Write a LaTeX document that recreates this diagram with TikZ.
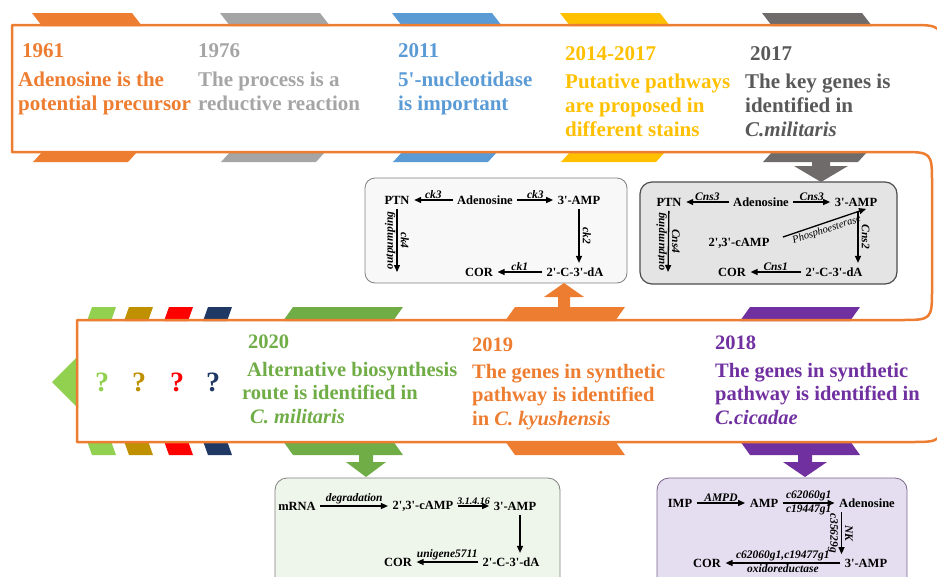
\documentclass[tikz,border=0pt]{standalone}
\usepackage{fontspec}
\setmainfont{Liberation Serif}
\usetikzlibrary{arrows.meta}
\definecolor{cor}{HTML}{ED7D31}
\definecolor{cgray}{HTML}{A5A5A5}
\definecolor{cblue}{HTML}{5B9BD5}
\definecolor{cyel}{HTML}{FFC000}
\definecolor{cdg}{HTML}{6F6B6B}
\definecolor{cdgt}{HTML}{595959}
\definecolor{cgreen}{HTML}{70AD47}
\definecolor{clg}{HTML}{92D050}
\definecolor{cgold}{HTML}{BF9000}
\definecolor{cred}{HTML}{FF0000}
\definecolor{cnavy}{HTML}{1F3864}
\definecolor{cpur}{HTML}{7030A0}
\definecolor{boxa}{HTML}{F8F8F8}
\definecolor{boxb}{HTML}{E4E4E4}
\definecolor{boxc}{HTML}{EEF5EA}
\definecolor{boxd}{HTML}{E4DEF0}
\newcommand{\myq}{\textquotesingle}
\newcommand{\mytoptab}[2]{%
  \fill[#1] (#2,13) -- ++(100,0) -- ++(10,13) -- ++(-100,0) -- cycle;
  \fill[#1] (#2+11,151) -- ++(95,0) -- ++(-10,11) -- ++(-95,0) -- cycle;}
\newcommand{\mymidtab}[4]{%
  \fill[#1] (#2,321) -- ++(#3,0) -- ++(#4,-14) -- ++(-#3,0) -- cycle;
  \fill[#1] (#2,441) -- ++(#3,0) -- ++(#4,14) -- ++(-#3,0) -- cycle;}
\begin{document}
\begin{tikzpicture}[x=1pt,y=-1pt,
  txt/.style={anchor=north west,inner sep=0pt,align=left,font=\fontsize{21}{24}\selectfont\bfseries},
  mtxt/.style={anchor=north west,inner sep=0pt,align=left,font=\fontsize{20.5}{23.5}\selectfont\bfseries},
  bx/.style={inner sep=1.5pt,font=\fontsize{12.5}{14}\selectfont\bfseries},
  lb/.style={inner sep=1pt,font=\fontsize{11.5}{12}\selectfont\bfseries\itshape},
  rlb/.style={lb,inner sep=3pt},
  arr/.style={line width=1.3pt,-{Triangle[length=7pt,width=6pt]},shorten >=3pt,shorten <=3pt},
  qm/.style={font=\fontsize{28}{30}\selectfont\bfseries},
  bline/.style={draw=cor,line width=2.5pt,line join=round}]
\useasboundingbox (0,0) rectangle (937,576);
\clip (0,0) rectangle (937,576);
% tabs of the top banner
\mytoptab{cor}{32}
\mytoptab{cgray}{220}
\mytoptab{cblue}{392}
\mytoptab{cyel}{560}
\mytoptab{cdg}{762}
% tabs of the middle banner
\mymidtab{clg}{87}{24}{5}
\mymidtab{cgold}{124}{24}{5}
\mymidtab{cred}{164}{24}{5}
\mymidtab{cnavy}{203}{24}{5}
\mymidtab{cgreen}{283}{110}{10}
\mymidtab{cor}{505}{110}{10}
\mymidtab{cpur}{740}{110}{10}
% left triangle
\fill[clg] (52,382) -- (78,356) -- (78,408) -- cycle;
% banner outline
\draw[bline] (12,152) -- (12,25) -- (909,25) .. controls (942,25) .. (942,58) -- (942,410) .. controls (942,442) .. (910,442) -- (77,442) -- (77,320) -- (900,320) .. controls (932,320) .. (932,288) -- (932,184) .. controls (932,152) .. (900,152) -- cycle;
% boxes
\draw[fill=boxa,draw=black!50,line width=0.8pt,rounded corners=10pt] (365,178) rectangle (627,283);
\draw[fill=boxb,draw=black!70,line width=1.2pt,rounded corners=12pt] (640,182) rectangle (897,284);
\draw[fill=boxc,draw=black!50,line width=0.8pt,rounded corners=12pt] (275,478) rectangle (560,600);
\draw[fill=boxd,draw=cpur!35!gray,line width=0.8pt,rounded corners=12pt] (657,478) rectangle (907,600);
% block arrows
\fill[cor] (558,310) -- (558,297) -- (544,297) -- (564,283) -- (584,297) -- (570,297) -- (570,310) -- cycle;
\fill[cdg] (812,158) -- (830,158) -- (830,166) -- (848,166) -- (821,182) -- (794,166) -- (812,166) -- cycle;
\fill[cgreen] (359,453) -- (373,453) -- (373,462) -- (386,462) -- (366,477) -- (346,462) -- (359,462) -- cycle;
\fill[cpur] (798,453) -- (812,453) -- (812,462) -- (827,462) -- (805,477) -- (783,462) -- (798,462) -- cycle;
% top texts
\node[txt,text=cor] (t61) at (18,43) {\hspace*{4pt}1961\\[5pt]Adenosine is the\\potential precursor};
\node[txt,text=cgray] (t76) at (198,43) {1976\\[5pt]The process is a\\reductive reaction};
\node[txt,text=cblue] (t11) at (398,43) {2011\\[5pt]5\myq-nucleotidase\\is important};
\node[txt,text=cyel] (t14) at (565,46) {2014-2017\\[4pt]Putative pathways\\are proposed in\\different stains};
\node[txt,text=cdgt] (t17) at (745,46) {\hspace*{5pt}2017\\[4pt]The key genes is\\identified in\\\textit{C.militaris}};
% middle texts
\node[qm,text=clg] (q1) at (102,382) {?};
\node[qm,text=cgold] (q2) at (139,382) {?};
\node[qm,text=cred] (q3) at (177,382) {?};
\node[qm,text=cnavy] (q4) at (213,382) {?};
\node[mtxt,text=cgreen] (t20) at (242,335) {\hspace*{6pt}2020\\[4pt]\hspace*{5pt}Alternative biosynthesis\\route is identified in\\\hspace*{8pt}\textit{C. militaris}};
\node[mtxt,text=cor] (t19) at (472,338) {2019\\[3pt]The genes in synthetic\\pathway is identified\\in \textit{C. kyushensis}};
\node[mtxt,text=cpur] (t18) at (715,336) {2018\\[4pt]The genes in synthetic\\pathway is identified in\\\textit{C.cicadae}};
% box A
\node[bx] (aptn) at (397,200) {PTN};
\node[bx] (aad) at (485,200) {Adenosine};
\node[bx] (aamp) at (579,200) {3\myq-AMP};
\node[bx] (ada) at (575,272) {2\myq-C-3\myq-dA};
\node[bx] (acor) at (479,272) {COR};
\coordinate (aptnend) at (397,275);
\draw[arr] (aad) -- node[lb,above]{ck3} (aptn);
\draw[arr] (aad) -- node[lb,above]{ck3} (aamp);
\draw[arr] (aamp.south) -- (aamp.south |- ada.north) node[midway,rlb,rotate=-90,anchor=south]{ck2};
\draw[arr] (ada) -- node[lb,above]{ck1} (acor);
\draw[arr] (aptn) -- node[rlb,rotate=-90,anchor=south]{ck4} node[lb,rotate=90,anchor=south]{outpumping} (aptnend);
% box B
\node[bx] (bptn) at (669,202) {PTN};
\node[bx] (bad) at (761,202) {Adenosine};
\node[bx] (bamp) at (856,202) {3\myq-AMP};
\node[bx] (bcamp) at (739,243) {2\myq,3\myq-cAMP};
\node[bx] (bda) at (834,272) {2\myq-C-3\myq-dA};
\node[bx] (bcor) at (732,272) {COR};
\coordinate (bptnend) at (668,275);
\draw[arr] (bad) -- node[lb,above]{Cns3} (bptn);
\draw[arr] (bad) -- node[lb,above]{Cns3} (bamp);
\draw[arr] ([xshift=9pt,yshift=5pt]bcamp.east) -- ([xshift=-10pt]bamp.south east) node[midway,rotate=18,anchor=north,inner sep=2pt,font=\fontsize{10.5}{11}\selectfont\itshape]{Phosphoesterase};
\draw[arr] ([xshift=2pt]bamp.south) -- ([xshift=2pt]bamp.south |- bda.north) node[midway,rlb,rotate=-90,anchor=south]{Cns2};
\draw[arr] (bda) -- node[lb,above]{Cns1} (bcor);
\draw[arr] (bptn) -- node[rlb,rotate=-90,anchor=south]{Cns4} node[lb,rotate=90,anchor=south]{outpumping} (bptnend);
% box C
\node[bx] (cm) at (297,506) {mRNA};
\node[bx] (ccamp) at (423,506) {2\myq,3\myq-cAMP};
\node[bx] (camp) at (515,506) {3\myq-AMP};
\node[bx] (cda) at (511,562) {2\myq-C-3\myq-dA};
\node[bx] (ccor) at (398,562) {COR};
\draw[arr] (cm) -- node[lb,above]{degradation} (ccamp);
\draw[arr] (ccamp) -- node[lb,above,font=\fontsize{10}{11}\selectfont\bfseries\itshape]{3.1.4.16} (camp);
\draw[arr] ([xshift=5pt]camp.south) -- ([xshift=5pt]camp.south |- cda.north);
\draw[arr] (cda) -- node[lb,above]{unigene5711} (ccor);
% box D
\node[bx] (dimp) at (680,503) {IMP};
\node[bx] (damp) at (764,503) {AMP};
\node[bx] (dad) at (867,503) {Adenosine};
\node[bx] (damp3) at (866,563) {3\myq-AMP};
\node[bx] (dcor) at (707,563) {COR};
\draw[arr] (dimp) -- node[lb,above]{AMPD} (damp);
\draw[arr] (damp) -- node[lb,above]{c62060g1} node[lb,below]{c19447g1} (dad);
\draw[arr] ([xshift=4pt]dad.south west) -- ([xshift=4pt]dad.south west |- damp3.north) node[midway,rlb,rotate=-90,anchor=north]{c35629g} node[midway,rlb,rotate=-90,anchor=south]{NK};
\draw[arr] (damp3) -- node[lb,above]{c62060g1,c19477g1} node[lb,below]{oxidoreductase} (dcor);
\end{tikzpicture}
\end{document}
